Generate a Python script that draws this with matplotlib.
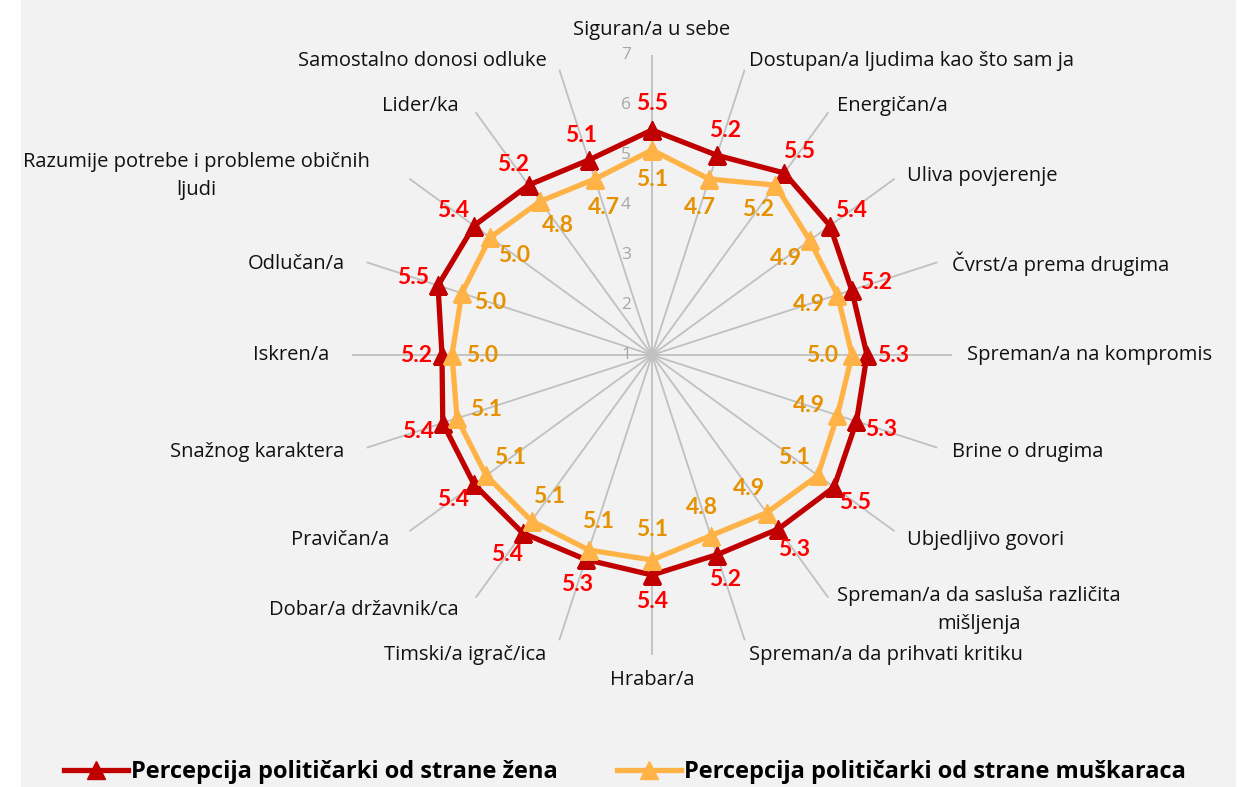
import matplotlib
matplotlib.use("Agg")
import matplotlib.pyplot as plt
from matplotlib.patches import Rectangle
import numpy as np

categories = ["Siguran/a u sebe", "Dostupan/a ljudima kao što sam ja", "Energičan/a",
              "Uliva povjerenje", "Čvrst/a prema drugima", "Spreman/a na kompromis",
              "Brine o drugima", "Ubjedljivo govori",
              "Spreman/a da sasluša različita\nmišljenja", "Spreman/a da prihvati kritiku",
              "Hrabar/a", "Timski/a igrač/ica", "Dobar/a državnik/ca", "Pravičan/a",
              "Snažnog karaktera", "Iskren/a", "Odlučan/a",
              "Razumije potrebe i probleme običnih\nljudi", "Lider/ka",
              "Samostalno donosi odluke"]
zene = [5.5, 5.2, 5.5, 5.4, 5.2, 5.3, 5.3, 5.5, 5.3, 5.2,
        5.4, 5.3, 5.4, 5.4, 5.4, 5.2, 5.5, 5.4, 5.2, 5.1]
muskarci = [5.1, 4.7, 5.2, 4.9, 4.9, 5.0, 4.9, 5.1, 4.9, 4.8,
            5.1, 5.1, 5.1, 5.1, 5.1, 5.0, 5.0, 5.0, 4.8, 4.7]
series_names = ["Percepcija političarki od strane žena",
                "Percepcija političarki od strane muškaraca"]
rticks = [1, 2, 3, 4, 5, 6, 7]

plt.rcParams['font.family'] = ['Open Sans', 'DejaVu Sans']

W, H = 1243, 787
fig = plt.figure(figsize=(W / 100, H / 100), dpi=100, facecolor="white")
fig.patches.append(Rectangle((21 / W, 0), (1236 - 21) / W, 1, transform=fig.transFigure,
                             facecolor="#f2f2f2", edgecolor="none", zorder=-10))

cx, cy, R = 652, 355, 300
ax = fig.add_axes([(cx - R) / W, (H - cy - R) / H, 2 * R / W, 2 * R / H], projection="polar")
ax.set_facecolor("none")
ax.set_theta_zero_location("N")
ax.set_theta_direction(-1)
ax.set_ylim(1, 7)
ax.spines["polar"].set_visible(False)

n = len(categories)
theta = np.arange(n) * 2 * np.pi / n
ax.set_xticks(theta)
ax.set_xticklabels([])
ax.set_yticks([])
ax.xaxis.grid(True, color="#c0c0c0", lw=1.3)
ax.yaxis.grid(False)

# radial scale labels
for v in rticks:
    ax.annotate(str(v), xy=(0, v), xytext=(-26, 0), textcoords="offset pixels",
                ha="center", va="center", fontsize=12.5, color="#a6a6a6", annotation_clip=False)

# category labels
for t, lab in zip(theta, categories):
    s, c = np.sin(t), np.cos(t)
    dx = 0
    if abs(s) < 0.05:
        ha = "center"
    elif s > 0:
        ha = "left"
    else:
        ha = "right"
        dx = -8
    if "\n" in lab and s < 0:
        dx = -27
    if c > 0.99:
        va = "bottom"
    elif c < -0.99:
        va = "top"
    else:
        va = "center"
    ax.annotate(lab, xy=(t, 1 + 315 / 50), xytext=(dx, -6 if 0.2 < c < 0.99 else 0),
                textcoords="offset pixels", ha=ha, va=va, fontsize=14.5,
                color="#111111", annotation_clip=False, multialignment="center",
                linespacing=1.55)

tc = np.append(theta, theta[0])
ax.plot(tc, zene + zene[:1], color="#c00000", lw=3.8, marker="^", ms=13, zorder=3,
        label=series_names[0])
ax.plot(tc, muskarci + muskarci[:1], color="#ffb347", lw=3.8, marker="^", ms=13, zorder=4,
        label=series_names[1])

for vals, d, col in [(zene, 26, "#ff0000"), (muskarci, -30, "#e69100")]:
    for t, v in zip(theta, vals):
        ax.annotate(f"{v:.1f}", xy=(t, v), xytext=(d * np.sin(t), d * np.cos(t)),
                    textcoords="offset pixels", ha="center", va="center",
                    fontsize=16.5, fontweight="bold", color=col, zorder=5,
                    family=["Lato", "DejaVu Sans"], annotation_clip=False)

fig.legend(loc="center", bbox_to_anchor=(0.503, 15 / H), ncol=2, frameon=False,
           prop={"size": 17, "weight": "bold"}, handlelength=2.7, columnspacing=2.5,
           handletextpad=0.15)

fig.savefig("out.png", dpi=100, facecolor=fig.get_facecolor())
